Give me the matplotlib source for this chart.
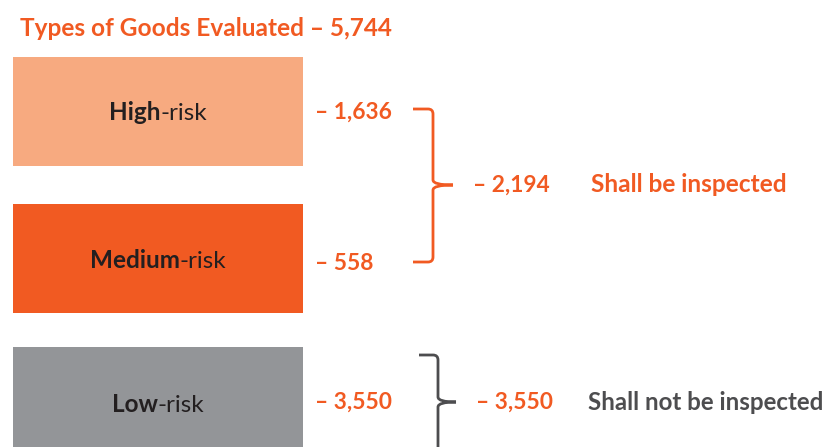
import matplotlib

matplotlib.use("Agg")
import matplotlib.pyplot as plt
from matplotlib.path import Path
from matplotlib.patches import PathPatch

plt.rcParams["font.family"] = ["Lato", "DejaVu Sans"]

# data
title = "Types of Goods Evaluated"
total = 5744
levels = ["High", "Medium", "Low"]
counts = [1636, 558, 3550]
groups = ["Shall be inspected", "Shall not be inspected"]
group_totals = [2194, 3550]

ORANGE = "#F15A22"
box_colors = ["#F7AA80", "#F15A22", "#939598"]
DARK = "#231F20"
GREY_TXT = "#4D4D4F"

fig = plt.figure(figsize=(8.32, 4.47), dpi=100)
ax = fig.add_axes([0, 0, 1, 1])
ax.set_xlim(0, 832)
ax.set_ylim(447, 0)
ax.axis("off")

box_tops = [57, 204, 347]
box_h = 109
ax.bar([13] * 3, [box_h] * 3, width=290, bottom=box_tops, align="edge",
       color=box_colors, linewidth=0)

ax.text(20, 28, f"{title} – {total:,}", color=ORANGE, fontsize=17.6,
        fontweight="bold", va="center", ha="left")

label_y = [113, 260, 405]
fig.canvas.draw()
r = fig.canvas.get_renderer()
for lv, y in zip(levels, label_y):
    # bold level name + regular "-risk", centred on the box
    t1 = ax.text(0, y, lv, fontsize=17.5, fontweight="bold", color=DARK,
                 va="center", ha="left")
    t2 = ax.annotate("-risk", xy=(1, 0), xycoords=t1, fontsize=17.5,
                     color=DARK, va="bottom", ha="left")
    w = t1.get_window_extent(r).width + t2.get_window_extent(r).width
    t1.set_x(158 - w / 2)

num_y = [112, 263, 402]
for v, y in zip(counts, num_y):
    ax.text(315, y, f"– {v:,}", color=ORANGE, fontsize=16.4,
            fontweight="bold", va="center", ha="left")


def brace(x0, x1, top, bot, mid, tip, color):
    k = 5
    verts = [(x0, top), (x1 - k, top), (x1, top), (x1, top + k),
             (x1, mid - k), (x1, mid), (tip, mid),
             (tip, mid), (x1, mid), (x1, mid + k),
             (x1, bot - k), (x1, bot), (x1 - k, bot),
             (x0, bot)]
    codes = [Path.MOVETO, Path.LINETO, Path.CURVE3, Path.CURVE3,
             Path.LINETO, Path.CURVE3, Path.CURVE3,
             Path.MOVETO, Path.CURVE3, Path.CURVE3,
             Path.LINETO, Path.CURVE3, Path.CURVE3,
             Path.LINETO]
    ax.add_patch(PathPatch(Path(verts, codes), fill=False, edgecolor=color,
                           lw=2.0, capstyle="butt", joinstyle="round"))


brace(413, 433, 109, 262, 185, 453, ORANGE)
brace(419, 438, 355, 520, 402, 456, GREY_TXT)

ax.text(473, 185, f"– {group_totals[0]:,}", color=ORANGE, fontsize=16.4,
        fontweight="bold", va="center", ha="left")
ax.text(591, 184, groups[0], color=ORANGE, fontsize=17.6,
        fontweight="bold", va="center", ha="left")
ax.text(476, 402, f"– {group_totals[1]:,}", color=ORANGE, fontsize=16.4,
        fontweight="bold", va="center", ha="left")
ax.text(588, 402, groups[1], color=GREY_TXT, fontsize=17.4,
        fontweight="bold", va="center", ha="left")

fig.savefig("out.png", dpi=100)
